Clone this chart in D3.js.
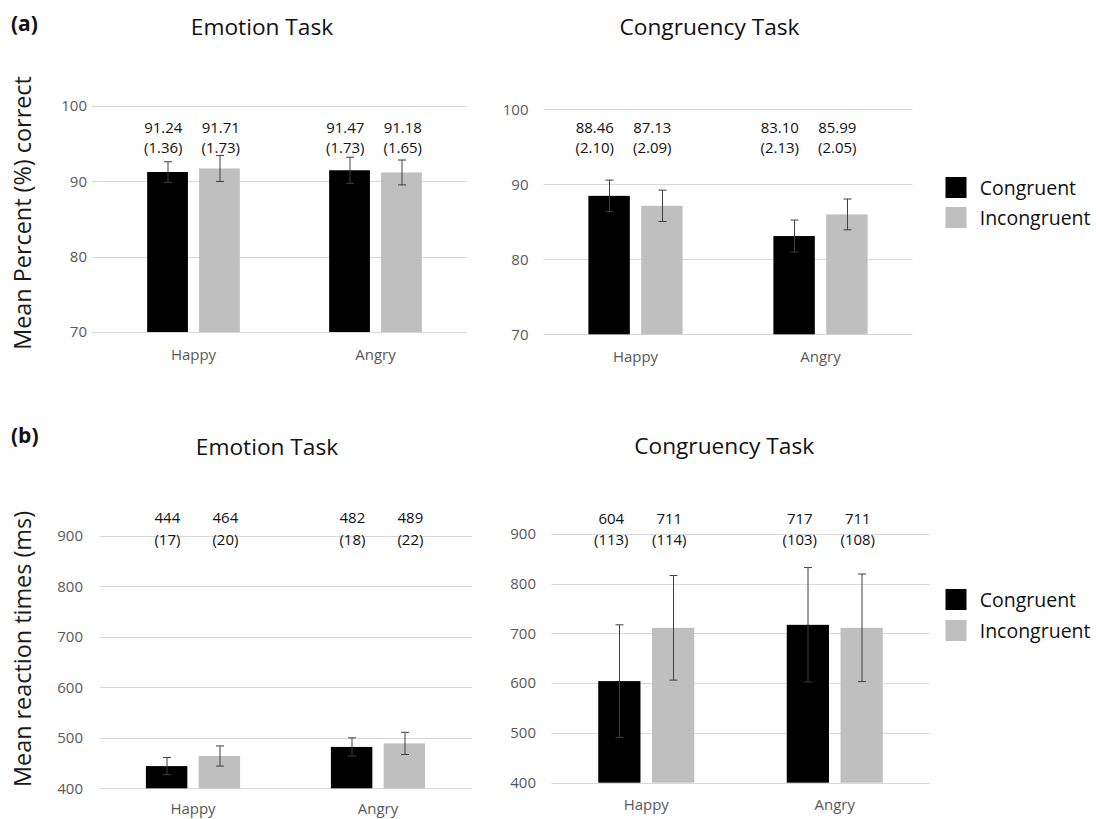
<!DOCTYPE html>
<html>
<head>
<meta charset="utf-8">
<script src="https://cdn.jsdelivr.net/npm/d3@7"></script>
<style>
  html, body { margin: 0; padding: 0; background: #fff; }
  svg { display: block; font-family: "Open Sans", "Noto Sans", sans-serif; }
</style>
</head>
<body>
<svg id="chart" width="1096" height="819"></svg>
<script>
// ---------------- DATA ----------------
const categories = ["Happy", "Angry"];
const seriesNames = ["Congruent", "Incongruent"];

// (a) accuracy, Emotion Task  (means, SE shown in labels, error bar half-lengths)
const accEmotionCong = [91.24, 91.47];
const accEmotionCongSE = [1.36, 1.73];
const accEmotionCongErr = [1.36, 1.73];
const accEmotionIncong = [91.71, 91.18];
const accEmotionIncongSE = [1.73, 1.65];
const accEmotionIncongErr = [1.73, 1.65];

// (a) accuracy, Congruency Task
const accCongruencyCong = [88.46, 83.10];
const accCongruencyCongSE = [2.10, 2.13];
const accCongruencyCongErr = [2.10, 2.13];
const accCongruencyIncong = [87.13, 85.99];
const accCongruencyIncongSE = [2.09, 2.05];
const accCongruencyIncongErr = [2.09, 2.05];

// (b) reaction times, Emotion Task
const rtEmotionCong = [444, 482];
const rtEmotionCongSE = [17, 18];
const rtEmotionCongErr = [17, 18];
const rtEmotionIncong = [464, 489];
const rtEmotionIncongSE = [20, 22];
const rtEmotionIncongErr = [20, 22];

// (b) reaction times, Congruency Task (error bars as drawn in the figure)
const rtCongruencyCong = [604, 717];
const rtCongruencyCongSE = [113, 103];
const rtCongruencyCongErr = [113, 115];
const rtCongruencyIncong = [711, 711];
const rtCongruencyIncongSE = [114, 108];
const rtCongruencyIncongErr = [105, 108];

const accTicks = [70, 80, 90, 100];
const rtTicks = [400, 500, 600, 700, 800, 900];

const panelTitles = ["Emotion Task", "Congruency Task"];
const panelLetters = ["(a)", "(b)"];
const yTitles = ["Mean Percent (%) correct", "Mean reaction times (ms)"];

// ---------------- STYLE / LAYOUT ----------------
const seriesColors = ["#000000", "#bfbfbf"];
const gridColor = "#d9d9d9";
const tickColor = "#595959";
const errColor = "#3f3f3f";
const FS = 15;

const svg = d3.select("#chart");

function buildRows(cong, congSE, congErr, incong, incongSE, incongErr) {
  return categories.map((c, i) => ({
    category: c,
    values: [
      { series: seriesNames[0], idx: 0, mean: cong[i], se: congSE[i], err: congErr[i] },
      { series: seriesNames[1], idx: 1, mean: incong[i], se: incongSE[i], err: incongErr[i] }
    ]
  }));
}

const panels = [
  { title: panelTitles[0],
    rows: buildRows(accEmotionCong, accEmotionCongSE, accEmotionCongErr, accEmotionIncong, accEmotionIncongSE, accEmotionIncongErr),
    ticks: accTicks, fmt: d3.format(".2f"),
    xr: [102.5, 466.5], gridX: [92, 467], yr: [332, 106],
    tickX: 87, catY: 360, lab1Y: 133, lab2Y: 153, labSp: 57.5, labDx: -1.5,
    titleX: 262, titleY: 35 },
  { title: panelTitles[1],
    rows: buildRows(accCongruencyCong, accCongruencyCongSE, accCongruencyCongErr, accCongruencyIncong, accCongruencyIncongSE, accCongruencyIncongErr),
    ticks: accTicks, fmt: d3.format(".2f"),
    xr: [543, 913], gridX: [543.5, 912.5], yr: [334.3, 109.3],
    tickX: 528.5, catY: 362, lab1Y: 133, lab2Y: 153, labSp: 57.5, labDx: -12,
    titleX: 709.5, titleY: 35,
    legend: { x: 945.5, y: [177, 207], size: [21, 21], textX: 979.7 } },
  { title: panelTitles[0],
    rows: buildRows(rtEmotionCong, rtEmotionCongSE, rtEmotionCongErr, rtEmotionIncong, rtEmotionIncongSE, rtEmotionIncongErr),
    ticks: rtTicks, fmt: d3.format("d"),
    xr: [100.5, 470.5], gridX: [100, 472], yr: [788.3, 536],
    tickX: 83, catY: 814, lab1Y: 523, lab2Y: 545, labSp: 58, labDx: 3.4,
    titleX: 267, titleY: 455 },
  { title: panelTitles[1],
    rows: buildRows(rtCongruencyCong, rtCongruencyCongSE, rtCongruencyCongErr, rtCongruencyIncong, rtCongruencyIncongSE, rtCongruencyIncongErr),
    ticks: rtTicks, fmt: d3.format("d"),
    xr: [552, 929], gridX: [551.3, 929.5], yr: [782.7, 533.7],
    tickX: 536, catY: 810, lab1Y: 524, lab2Y: 545, labSp: 58, labDx: -6,
    titleX: 724.2, titleY: 454,
    legend: { x: 945.5, y: [589, 620], size: [21, 21], textX: 979.7 } }
];

panels.forEach(p => {
  const g = svg.append("g");
  const x0 = d3.scaleBand().domain(categories).range(p.xr).padding(0);
  const x1 = d3.scaleBand().domain(seriesNames).range([0, x0.bandwidth()])
    .paddingInner(0.215).paddingOuter(0.86);
  const y = d3.scaleLinear().domain(d3.extent(p.ticks)).range(p.yr);
  const color = d3.scaleOrdinal().domain(seriesNames).range(seriesColors);
  const cx = d => x1(d.series) + x1.bandwidth() / 2;

  // gridlines
  g.selectAll("line.grid").data(p.ticks).join("line")
    .attr("x1", p.gridX[0]).attr("x2", p.gridX[1])
    .attr("y1", d => Math.round(y(d)) + 0.5).attr("y2", d => Math.round(y(d)) + 0.5)
    .attr("stroke", gridColor).attr("stroke-width", 1);

  // y axis tick labels
  const yAxis = d3.axisLeft(y).tickValues(p.ticks).tickSize(0).tickPadding(0).tickFormat(d3.format("d"));
  const ya = g.append("g").attr("transform", `translate(${p.tickX},0)`).call(yAxis);
  ya.select(".domain").remove();
  ya.selectAll("text").attr("fill", tickColor).attr("font-size", FS)
    .attr("font-family", "'Open Sans', sans-serif");

  // x axis category labels
  const xAxis = d3.axisBottom(x0).tickSize(0).tickPadding(0);
  const xa = g.append("g").attr("transform", `translate(0,${p.catY})`).call(xAxis);
  xa.select(".domain").remove();
  xa.selectAll("text").attr("fill", tickColor).attr("font-size", FS)
    .attr("font-family", "'Open Sans', sans-serif").attr("dy", "0");

  const cat = g.selectAll("g.cat").data(p.rows).join("g")
    .attr("transform", d => `translate(${x0(d.category)},0)`);

  // bars
  cat.selectAll("rect").data(d => d.values).join("rect")
    .attr("x", d => x1(d.series))
    .attr("width", x1.bandwidth())
    .attr("y", d => y(d.mean))
    .attr("height", d => y(p.ticks[0]) - y(d.mean))
    .attr("fill", d => color(d.series));

  // error bars
  const cap = 4;
  const eb = cat.selectAll("g.err").data(d => d.values).join("g")
    .attr("stroke", errColor).attr("stroke-width", 1);
  eb.append("line")
    .attr("x1", d => Math.round(cx(d)) + 0.5).attr("x2", d => Math.round(cx(d)) + 0.5)
    .attr("y1", d => y(d.mean + d.err)).attr("y2", d => y(d.mean - d.err));
  eb.append("line")
    .attr("x1", d => Math.round(cx(d)) + 0.5 - cap).attr("x2", d => Math.round(cx(d)) + 0.5 + cap)
    .attr("y1", d => y(d.mean + d.err)).attr("y2", d => y(d.mean + d.err));
  eb.append("line")
    .attr("x1", d => Math.round(cx(d)) + 0.5 - cap).attr("x2", d => Math.round(cx(d)) + 0.5 + cap)
    .attr("y1", d => y(d.mean - d.err)).attr("y2", d => y(d.mean - d.err));

  // value labels: mean and (SE)
  const labX = d => x0.bandwidth() / 2 + (d.idx - 0.5) * p.labSp + p.labDx;
  cat.selectAll("text.m").data(d => d.values).join("text").attr("class", "m")
    .attr("x", labX).attr("y", p.lab1Y).attr("text-anchor", "middle")
    .attr("font-size", FS).attr("fill", "#111")
    .text(d => p.fmt(d.mean));
  cat.selectAll("text.s").data(d => d.values).join("text").attr("class", "s")
    .attr("x", labX).attr("y", p.lab2Y).attr("text-anchor", "middle")
    .attr("font-size", FS).attr("fill", "#111")
    .text(d => "(" + p.fmt(d.se) + ")");

  // title
  g.append("text").attr("x", p.titleX).attr("y", p.titleY)
    .attr("text-anchor", "middle").attr("font-size", 22.7).attr("fill", "#111")
    .text(p.title);

  // legend
  if (p.legend) {
    const L = p.legend;
    const lg = g.selectAll("g.leg").data(seriesNames).join("g");
    lg.append("rect").attr("x", L.x).attr("y", (d, i) => L.y[i])
      .attr("width", L.size[0]).attr("height", L.size[1])
      .attr("fill", d => color(d));
    lg.append("text").attr("x", L.textX).attr("y", (d, i) => L.y[i] + L.size[1] / 2 + 7)
      .attr("font-size", 19.5).attr("fill", "#111").text(d => d);
  }
});

// panel letters
svg.selectAll("text.letter").data(panelLetters).join("text").attr("class", "letter")
  .attr("x", 11).attr("y", (d, i) => [31, 443][i])
  .attr("font-size", 21).attr("font-weight", "bold").attr("fill", "#111")
  .text(d => d);

// y axis titles
svg.selectAll("text.ytitle").data(yTitles).join("text").attr("class", "ytitle")
  .attr("transform", (d, i) => `translate(31,${[213, 649][i]}) rotate(-90)`)
  .attr("text-anchor", "middle").attr("font-size", 23.4).attr("fill", "#1a1a1a")
  .text(d => d);
</script>
</body>
</html>
